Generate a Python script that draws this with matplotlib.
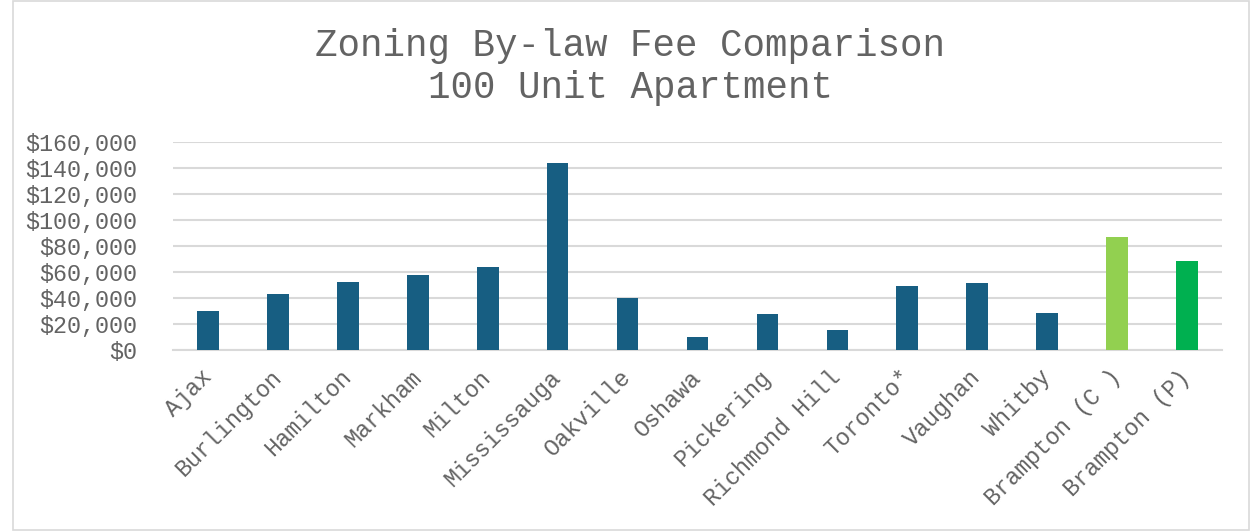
import matplotlib
matplotlib.use("Agg")
import matplotlib.pyplot as plt
from matplotlib.patches import Rectangle
from matplotlib.ticker import FuncFormatter

categories = ["Ajax", "Burlington", "Hamilton", "Markham", "Milton", "Mississauga",
              "Oakville", "Oshawa", "Pickering", "Richmond Hill", "Toronto*",
              "Vaughan", "Whitby", "Brampton (C )", "Brampton (P)"]
fees = [30000, 43400, 52300, 57500, 63800, 143500, 40000, 9700, 27500, 15300,
        49100, 51700, 28200, 86600, 68700]
colors = ["#175E82"] * 13 + ["#92D050", "#00B050"]
yticks = [0, 20000, 40000, 60000, 80000, 100000, 120000, 140000, 160000]
title = "Zoning By-law Fee Comparison\n100 Unit Apartment"

FONT = "Liberation Mono"
GRAY = "#636363"

fig = plt.figure(figsize=(12.52, 5.31), dpi=100)
fig.patches.append(Rectangle((13 / 1252, 0.002), 1236 / 1252, 0.996, transform=fig.transFigure,
                             fill=False, edgecolor="#d9d9d9", linewidth=1.2))
ax = fig.add_axes([173 / 1252, 181 / 531, 1049 / 1252, 208 / 531])

x = list(range(len(categories)))
ax.bar(x, fees, width=0.31, color=colors, zorder=3)
ax.set_xlim(-0.5, len(categories) - 0.5)
ax.set_ylim(0, 160000)
ax.set_yticks(yticks)
ax.yaxis.set_major_formatter(FuncFormatter(lambda v, p: f"${int(v):,}"))
ax.grid(axis="y", color="#d9d9d9", linewidth=1.5, zorder=0)
for s in ["top", "right", "left"]:
    ax.spines[s].set_visible(False)
ax.spines["bottom"].set_color("#d9d9d9")
ax.spines["bottom"].set_linewidth(1.5)
ax.tick_params(axis="both", length=0, colors=GRAY)
ax.tick_params(axis="y", pad=26)
ax.set_xticks(x)
ax.set_xticklabels(categories, rotation=45, ha="right", va="center", rotation_mode="anchor",
                   fontfamily=FONT, fontsize=16.8, color=GRAY)
for lbl in ax.get_yticklabels():
    lbl.set_fontfamily(FONT)
    lbl.set_fontsize(16.8)
    lbl.set_color(GRAY)
ax.tick_params(axis="x", pad=17)

fig.text(630 / 1252, 1 - 67 / 531, title, ha="center", va="center", fontfamily=FONT,
         fontsize=27, color=GRAY, linespacing=1.18)

fig.savefig("out.png", dpi=100)
